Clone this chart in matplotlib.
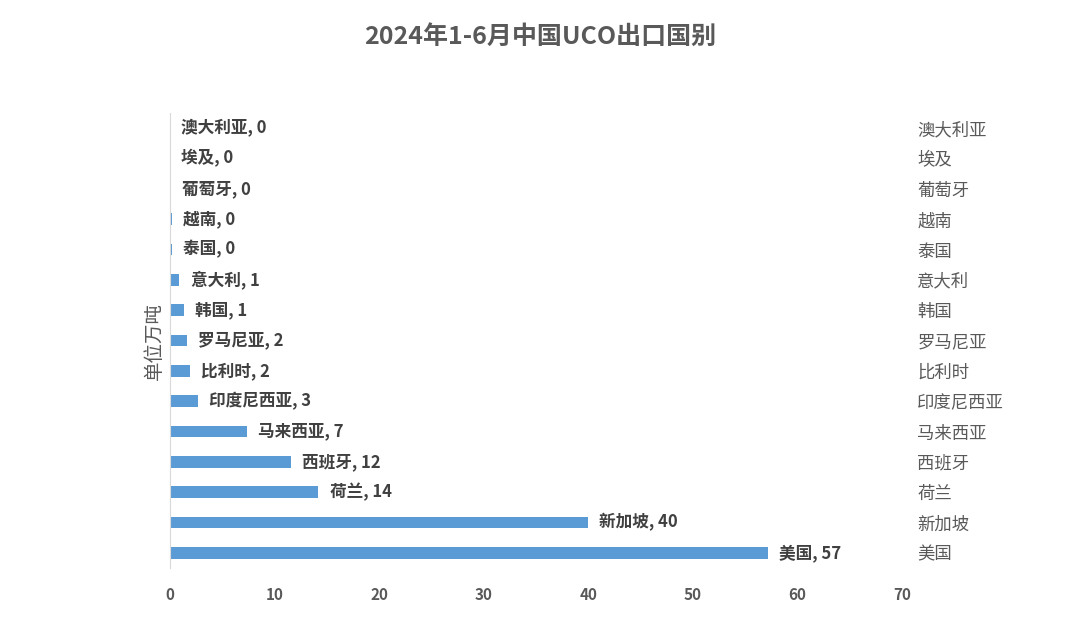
import matplotlib
matplotlib.use("Agg")
import matplotlib.pyplot as plt

plt.rcParams['font.family'] = ['Noto Sans CJK SC', 'DejaVu Sans']

countries = ["美国", "新加坡", "荷兰", "西班牙", "马来西亚", "印度尼西亚", "比利时",
             "罗马尼亚", "韩国", "意大利", "泰国", "越南", "葡萄牙", "埃及", "澳大利亚"]
values = [57.2, 40.0, 14.2, 11.6, 7.4, 2.7, 1.9, 1.6, 1.3, 0.9, 0.2, 0.2, 0.05, 0.03, 0.02]
xticks = [0, 10, 20, 30, 40, 50, 60, 70]

title = "2024年1-6月中国UCO出口国别"
ylabel = "单位万吨"

fig = plt.figure(figsize=(10.8, 6.37), dpi=100)
ax = fig.add_axes([170/1080, 1-568/637, 732/1080, 455/637])

pos = list(range(len(countries)))
bars = ax.barh(pos, values, height=0.38, color="#5b9bd5")
ax.bar_label(bars, labels=[f"{c}, {v:.0f}" for c, v in zip(countries, values)],
             padding=8, fontsize=12, color="#404040", fontweight="bold")

ax.set_xlim(0, 70)
ax.set_ylim(-0.5, len(countries) - 0.5)
ax.set_xticks(xticks)
ax.set_xticklabels([str(t) for t in xticks], fontsize=11, color="#595959", fontweight="bold")
ax.tick_params(axis="x", length=0, pad=14)
ax.set_yticks([])
for s in ["top", "right", "bottom"]:
    ax.spines[s].set_visible(False)
ax.spines["left"].set_color("#d9d9d9")
ax.set_ylabel(ylabel, fontsize=14, color="#595959", labelpad=4)

ax2 = ax.twinx()
ax2.set_ylim(ax.get_ylim())
ax2.set_yticks(pos)
ax2.set_yticklabels(countries, fontsize=12.5, color="#595959")
ax2.tick_params(axis="y", length=0, pad=11)
for s in ax2.spines.values():
    s.set_visible(False)

fig.text(0.5, 1-37/637, title, ha="center", va="center", fontsize=18,
         fontweight="bold", color="#595959")

fig.savefig("out.png", dpi=100, facecolor="white")
